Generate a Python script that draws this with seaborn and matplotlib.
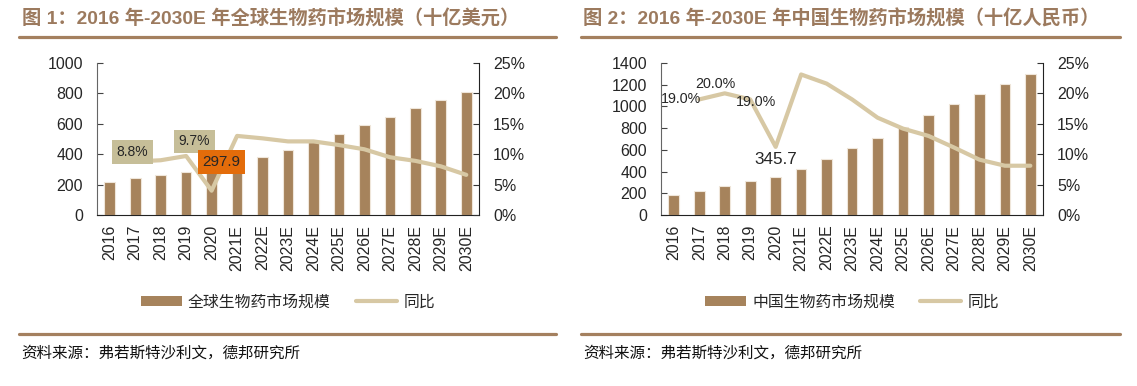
import numpy as np
import pandas as pd
import matplotlib
matplotlib.use("Agg")
import matplotlib.pyplot as plt
from matplotlib.lines import Line2D
from matplotlib.patches import Patch
from matplotlib.ticker import FuncFormatter, FixedLocator
import seaborn as sns

# ---------------- data ----------------
years = ["2016", "2017", "2018", "2019", "2020", "2021E", "2022E", "2023E",
         "2024E", "2025E", "2026E", "2027E", "2028E", "2029E", "2030E"]

global_size = [220, 242, 261, 286, 297.9, 337, 380, 429, 481, 532, 589, 646, 701, 758, 809]
global_yoy = [np.nan, 8.8, 9.0, 9.7, 4.0, 13.0, 12.6, 12.1, 12.1, 11.5, 10.8, 9.5, 8.9, 8.0, 6.6]

china_size = [182, 218, 265, 311, 345.7, 425, 517, 615, 711, 812, 920, 1025, 1114, 1203, 1298]
china_yoy = [np.nan, 19.0, 20.0, 19.0, 11.2, 23.1, 21.6, 19.0, 16.0, 14.2, 13.0, 11.1, 9.1, 8.1, 8.1]

titles = ["图 1：2016 年-2030E 年全球生物药市场规模（十亿美元）",
          "图 2：2016 年-2030E 年中国生物药市场规模（十亿人民币）"]
bar_labels = ["全球生物药市场规模", "中国生物药市场规模"]
line_label = "同比"
source = "资料来源：弗若斯特沙利文，德邦研究所"

# ---------------- style ----------------
sns.set_style("white")
plt.rcParams["font.family"] = ["Liberation Sans", "Noto Sans CJK SC", "DejaVu Sans"]
CJK = ["Noto Sans CJK SC", "DejaVu Sans"]

BAR = "#A6835C"
LINE = "#D7C8A4"
BROWN = "#A4805F"
TITLE_C = "#9C7A5E"

fig = plt.figure(figsize=(11.37, 3.86), dpi=100)


def panel(left, size, yoy, ymax, ystep, bar_label, title, x0, x1):
    ax = fig.add_axes([left, 0.443, 0.336, 0.394])
    df = pd.DataFrame({"year": years, "size": size, "yoy": yoy})
    sns.barplot(data=df, x="year", y="size", color=BAR, width=0.42,
                edgecolor="#EFE6DA", linewidth=0.8, saturation=1, ax=ax, zorder=2)
    ax.set_xlim(-0.5, len(years) - 0.5)
    ax.set_ylim(0, ymax)
    ax.set_yticks(np.arange(0, ymax + 1, ystep))
    ax.set_xlabel("")
    ax.set_ylabel("")
    ax.tick_params(axis="x", which="major", length=0, pad=7, labelsize=11.5,
                   labelrotation=90)
    ax.xaxis.set_minor_locator(FixedLocator(np.arange(0.5, len(years) - 1, 1)))
    ax.tick_params(axis="x", which="minor", direction="in", length=4, width=0.8,
                   color="#333333")
    ax.tick_params(axis="y", direction="in", length=4, width=0.8, pad=10,
                   labelsize=11.5, color="#444444", left=True)
    ax.spines["top"].set_visible(False)
    ax.spines["left"].set_color("#666666")
    ax.spines["bottom"].set_color("#222222")
    ax.spines["right"].set_visible(False)

    ax2 = ax.twinx()
    x = np.arange(len(years))
    sns.lineplot(x=x, y=yoy, color=LINE, linewidth=3, ax=ax2, zorder=3)
    ax2.set_ylim(0, 25)
    ax2.set_yticks(np.arange(0, 26, 5))
    ax2.yaxis.set_major_formatter(FuncFormatter(lambda v, p: f"{v:.0f}%"))
    ax2.tick_params(axis="y", direction="in", length=4, width=0.8, pad=10,
                    labelsize=11.5, color="#333333", right=True)
    ax2.spines["top"].set_visible(False)
    ax2.spines["left"].set_visible(False)
    ax2.spines["bottom"].set_visible(False)
    ax2.spines["right"].set_color("#222222")
    ax2.set_ylabel("")
    ax2.set_xlim(-0.5, len(years) - 0.5)

    handles = [Patch(facecolor=BAR, edgecolor="none"),
               Line2D([0], [0], color=LINE, linewidth=3)]
    ax2.legend(handles, [bar_label, line_label], loc="center",
               bbox_to_anchor=(0.5, -0.572), ncol=2, frameon=False,
               prop={"family": CJK, "size": 11.4}, handlelength=2.6,
               handleheight=0.65, handletextpad=0.4, columnspacing=1.6)

    fig.text(x0, 0.952, title, fontsize=13.9, fontweight="bold", color=TITLE_C,
             va="center", ha="left")
    fig.add_artist(Line2D([x0 - 0.002, x1], [0.904, 0.904], color=BROWN,
                          linewidth=2.3, transform=fig.transFigure))
    fig.add_artist(Line2D([x0 - 0.002, x1], [0.135, 0.135], color=BROWN,
                          linewidth=2.3, transform=fig.transFigure))
    fig.text(x0, 0.085, source, fontsize=11.2, color="#111111", va="center",
             ha="left", family=CJK)
    return ax, ax2


ax, ax2 = panel(0.0853, global_size, global_yoy, 1000, 200, bar_labels[0],
                titles[0], 0.019, 0.489)
box_c = "#C6BE98"
ax2.annotate(f"{global_yoy[1]:.1f}%", xy=(1, global_yoy[1]), xytext=(-2, 7),
             textcoords="offset points", ha="center", va="center", fontsize=10,
             bbox=dict(boxstyle="square,pad=0.35", fc=box_c, ec="none"), zorder=6)
ax2.annotate(f"{global_yoy[3]:.1f}%", xy=(3, global_yoy[3]), xytext=(6, 10.5),
             textcoords="offset points", ha="center", va="center", fontsize=10,
             bbox=dict(boxstyle="square,pad=0.35", fc=box_c, ec="none"), zorder=6)
ax2.annotate(f"{global_size[4]:.1f}", xy=(4, global_size[4]), xycoords=ax.transData,
             xytext=(7, 5.5), textcoords="offset points", ha="center", va="center",
             fontsize=11, bbox=dict(boxstyle="square,pad=0.3", fc="#E36C0A", ec="none"),
             zorder=6)

bx, bx2 = panel(0.5814, china_size, china_yoy, 1400, 200, bar_labels[1],
                titles[1], 0.513, 0.985)
bx2.annotate(f"{china_yoy[1]:.1f}%", xy=(1, china_yoy[1]), xytext=(-13, 0),
             textcoords="offset points", ha="center", va="center", fontsize=10.3,
             zorder=6)
bx2.annotate(f"{china_yoy[2]:.1f}%", xy=(2, china_yoy[2]), xytext=(-7, 7),
             textcoords="offset points", ha="center", va="center", fontsize=10.3,
             zorder=6)
bx2.annotate(f"{china_yoy[3]:.1f}%", xy=(3, china_yoy[3]), xytext=(4, -2),
             textcoords="offset points", ha="center", va="center", fontsize=10.3,
             zorder=6)
bx2.annotate(f"{china_size[4]:.1f}", xy=(4, china_size[4]), xycoords=bx.transData,
             xytext=(0, 13), textcoords="offset points", ha="center", va="center",
             fontsize=12.3, zorder=6)

fig.savefig("out.png", dpi=100)
